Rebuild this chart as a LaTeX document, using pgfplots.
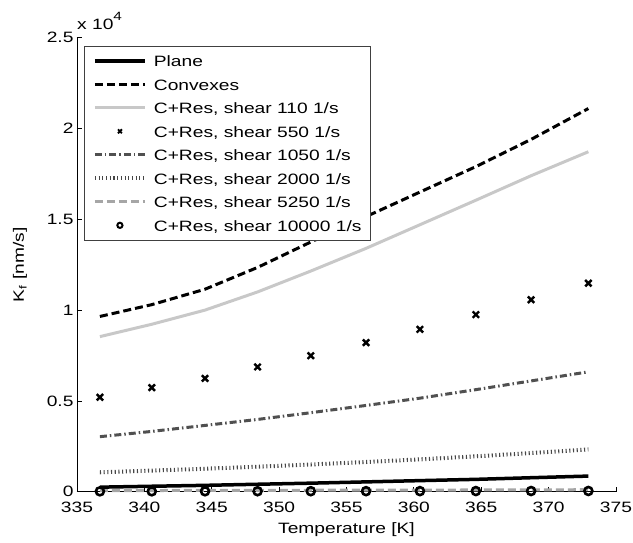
\documentclass[border=0pt]{standalone}
\usepackage{fontspec}
\setmainfont{Liberation Sans}
\usepackage{graphicx}
\usepackage{pgfplots}
\pgfplotsset{compat=1.18}
\definecolor{lg}{RGB}{200,200,200}
\definecolor{dg}{RGB}{80,80,80}
\definecolor{dotc}{RGB}{70,70,70}
\definecolor{mg}{RGB}{166,166,166}
\newcommand\st[1]{\scalebox{1.28}[1]{#1}}
\newcommand\ls{\rule[-3bp]{0pt}{16.7bp}}
\pgfplotsset{
  xlegend/.style={legend image code/.code={\draw[##1, mark options={solid, line width=1.8bp}, mark size=2.8bp] plot coordinates {(25bp,0bp)};}},
  olegend/.style={legend image code/.code={\draw[##1, mark options={solid, line width=2bp}, mark size=2.6bp] plot coordinates {(25bp,0bp)};}},
}
\begin{document}
\begin{tikzpicture}[font=\fontsize{15bp}{18bp}\selectfont]
\begin{axis}[
  scale only axis, width=539bp, height=454bp,
  xmin=335, xmax=375, ymin=0, ymax=25000,
  axis x line*=bottom, axis y line*=left,
  axis line style={-, line width=0.8bp, black},
  tick align=inside, major tick length=5bp,
  tick style={line width=0.8bp, black},
  xtick={335,340,...,375},
  xticklabels={\st{335},\st{340},\st{345},\st{350},\st{355},\st{360},\st{365},\st{370},\st{375}},
  ytick={0,5000,10000,15000,20000,25000},
  yticklabels={\st{0},\st{0.5},\st{1},\st{1.5},\st{2},\st{2.5}},
  scaled y ticks=false, scaled x ticks=false,
  xticklabel style={anchor=base, yshift=-21bp},
  xlabel={\st{Temperature [K]}},
  xlabel style={at={(axis description cs:0.5,0)}, anchor=base, yshift=-42bp},
  ylabel={\st{K\textsubscript{f} [nm/s]}},
  ylabel style={at={(axis description cs:-0.1058,0.5)}, anchor=center},
  clip=false,
  legend cell align=left,
  legend style={at={(rel axis cs:0.013,0.982)}, anchor=north west,
    draw=black!75, line width=0.8bp, fill=white,
    inner xsep=8.5bp, inner ysep=7bp, row sep=8.3bp, column sep=7bp,
    nodes={inner sep=0pt}},
  legend image code/.code={\draw[mark repeat=2,mark phase=2,#1] plot coordinates {(0bp,0bp) (25bp,0bp) (50bp,0bp)};},
]
\addplot[black, line width=3.5bp] table {
336.7 250
340.55 300
344.5 350
348.4 410
352.35 470
356.45 540
360.45 610
364.6 680
368.7 770
372.95 860
};
\addlegendentry{\ls\st{Plane}}
\addplot[black, line width=3bp, dash pattern=on 8bp off 4bp] table {
336.7 9650
340.55 10300
344.5 11150
348.4 12350
352.35 13750
356.45 15150
360.45 16500
364.6 17900
368.7 19400
372.95 21100
};
\addlegendentry{\ls\st{Convexes}}
\addplot[lg, line width=3bp] table {
336.7 8540
340.55 9220
344.5 10000
348.4 11000
352.35 12150
356.45 13400
360.45 14700
364.6 16050
368.7 17400
372.95 18720
};
\addlegendentry{\ls\st{C+Res, shear 110 1/s}}
\addplot[black, only marks, mark=x, mark size=4.5bp, mark options={solid, line width=2.4bp}, xlegend] table {
336.7 5200
340.55 5730
344.5 6240
348.4 6870
352.35 7490
356.45 8210
360.45 8940
364.6 9750
368.7 10570
372.95 11480
};
\addlegendentry{\ls\st{C+Res, shear 550 1/s}}
\addplot[dg, line width=3bp, dash pattern=on 7bp off 3bp on 1.5bp off 3bp] table {
336.7 3030
340.55 3320
344.5 3650
348.4 3980
352.35 4350
356.45 4750
360.45 5150
364.6 5620
368.7 6100
372.95 6600
};
\addlegendentry{\ls\st{C+Res, shear 1050 1/s}}
\addplot[dotc, line width=4bp, dash pattern=on 1.1bp off 2.6bp] table {
336.7 1070
340.55 1162
344.5 1265
348.4 1376
352.35 1497
356.45 1635
360.45 1780
364.6 1948
368.7 2127
372.95 2330
};
\addlegendentry{\ls\st{C+Res, shear 2000 1/s}}
\addplot[mg, line width=3bp, dash pattern=on 8bp off 4bp] table {
336.7 60
340.55 65
344.5 70
348.4 75
352.35 80
356.45 85
360.45 90
364.6 95
368.7 100
372.95 110
};
\addlegendentry{\ls\st{C+Res, shear 5250 1/s}}
\addplot[black, only marks, mark=o, mark size=4bp, mark options={solid, line width=2.6bp}, olegend] table {
336.7 20
340.55 22
344.5 24
348.4 26
352.35 28
356.45 30
360.45 32
364.6 35
368.7 38
372.95 40
};
\addlegendentry{\ls\st{C+Res, shear 10000 1/s}}
\node[anchor=base west, inner sep=0pt] at (rel axis cs:0,1) [yshift=7.7bp] {\st{x 10}\raisebox{9bp}{\fontsize{12bp}{12bp}\selectfont\st{4}}};
\end{axis}
\pgfresetboundingbox
\path (-77bp,-51.3bp) rectangle (556bp,491.7bp);
\end{tikzpicture}
\end{document}
